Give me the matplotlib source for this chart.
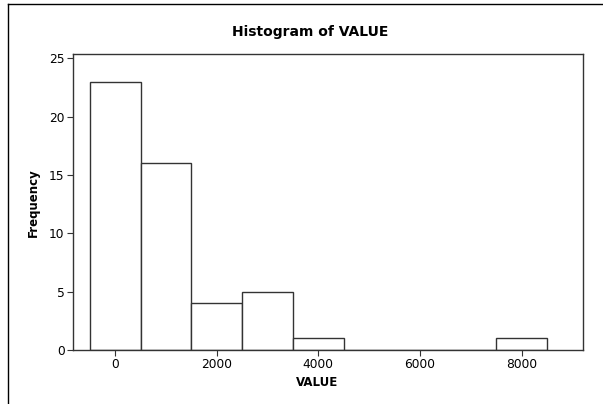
import matplotlib
matplotlib.use("Agg")
import matplotlib.pyplot as plt
from matplotlib.lines import Line2D

bin_centers = [0, 1000, 2000, 3000, 4000, 5000, 6000, 7000, 8000]
frequencies = [23, 16, 4, 5, 1, 0, 0, 0, 1]
bin_width = 1000
x_ticks = [0, 2000, 4000, 6000, 8000]
y_ticks = [0, 5, 10, 15, 20, 25]

plt.rcParams['font.family'] = ['DejaVu Sans']
W, H = 603, 404
fig = plt.figure(figsize=(W / 100, H / 100), dpi=100)
ax = fig.add_axes([73 / W, 1 - 350 / H, (583 - 73) / W, (350 - 53.5) / H])

ax.bar(bin_centers, frequencies, width=bin_width, color='white',
       edgecolor='#333333', linewidth=1.0)
ax.set_xlim(-830, 9210)
ax.set_ylim(0, 25.4)
ax.set_xticks(x_ticks)
ax.set_xticklabels([str(t) for t in x_ticks])
ax.set_yticks(y_ticks)
ax.tick_params(axis='both', labelsize=8.8, length=4, width=0.8, color='#333333', pad=2)
for s in ax.spines.values():
    s.set_color('#333333')
    s.set_linewidth(1.0)

fig.text(310 / W, 1 - 32 / H, 'Histogram of VALUE', ha='center', va='center',
         fontsize=10, fontweight='bold')
fig.text(317 / W, 1 - 383 / H, 'VALUE', ha='center', va='center',
         fontsize=8.5, fontweight='bold')
fig.text(33 / W, 1 - 203 / H, 'Frequency', ha='center', va='center',
         fontsize=8.5, fontweight='bold', rotation=90)

# outer frame (top and left lines)
fig.add_artist(Line2D([8 / W, 1], [1 - 4 / H, 1 - 4 / H], color='black', linewidth=1.0,
                      transform=fig.transFigure))
fig.add_artist(Line2D([8 / W, 8 / W], [0, 1 - 4 / H], color='black', linewidth=1.0,
                      transform=fig.transFigure))

fig.savefig('out.png', dpi=100)
